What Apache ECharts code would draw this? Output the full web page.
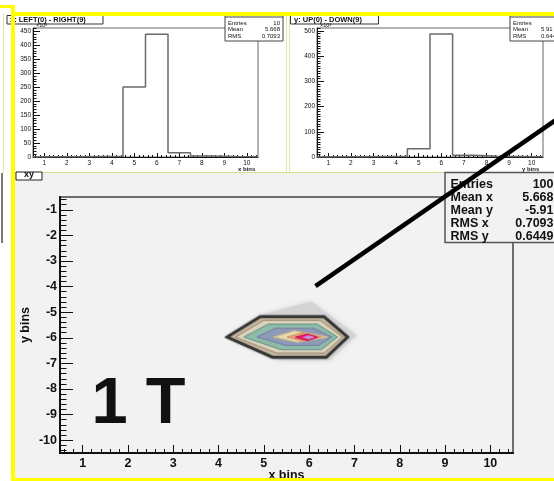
<!DOCTYPE html>
<html>
<head>
<meta charset="utf-8">
<script src="https://cdn.jsdelivr.net/npm/echarts@6/dist/echarts.min.js"></script>
<style>
  html, body { margin: 0; padding: 0; background: #fff; }
  #chart { width: 554px; height: 481px; }
</style>
</head>
<body>
<div id="chart"></div>
<script>
// bin centres, shared by both projections and the 2-D plot
var bins = [1, 2, 3, 4, 5, 6, 7, 8, 9, 10];
var yBins = [-1, -2, -3, -4, -5, -6, -7, -8, -9, -10];

// projections (counts x10^3)
var leftRight = [1, 1, 2, 3, 251, 440, 15, 4, 2, 1];
var upDown = [1, 1, 2, 3, 33, 487, 7, 3, 2, 1];
var lrTicks = [0, 50, 100, 150, 200, 250, 300, 350, 400, 450];
var udTicks = [0, 100, 200, 300, 400, 500];

// hxy contour rings, outermost first, in (x bins, y bins)
var ringShade = [[4.25, -5.95], [4.95, -5.1], [6.05, -4.58], [7.05, -5.9], [6.45, -6.88], [5.35, -6.88]];
var ring1 = [[4.19, -5.97], [4.92, -5.18], [6.33, -5.18], [6.85, -5.97], [6.38, -6.76], [5.19, -6.76]];
var ring2 = [[4.37, -5.97], [5.0, -5.32], [6.25, -5.32], [6.74, -5.97], [6.33, -6.6], [5.28, -6.6]];
var ring3 = [[4.56, -5.97], [5.1, -5.47], [6.18, -5.47], [6.62, -5.97], [6.27, -6.46], [5.38, -6.46]];
var ring4 = [[4.85, -5.97], [5.25, -5.63], [6.1, -5.63], [6.5, -5.97], [6.2, -6.3], [5.5, -6.3]];
var ring5 = [[5.22, -5.97], [5.68, -5.73], [6.4, -5.97], [5.74, -6.17]];
var ring6 = [[5.52, -5.97], [5.86, -5.81], [6.26, -5.97], [5.86, -6.12]];
var ring7 = [[5.7, -5.98], [5.96, -5.86], [6.18, -5.98], [5.96, -6.1]];
var ring8 = [[5.86, -5.98], [5.99, -5.91], [6.12, -5.98], [5.99, -6.05]];

// annotation arrow, in the same coordinates
var arrowX = [6.14, 11.78];
var arrowY = [-3.98, 2.92];

// stats boxes
var statLabels = ['Entries', 'Mean x', 'Mean y', 'RMS x', 'RMS y'];
var statValues = ['100', '5.668', '-5.91', '0.7093', '0.6449'];
var lrStatLabels = ['Entries', 'Mean', 'RMS'];
var lrStatValues = ['10', '5.668', '0.7093'];
var udStatValues = ['', '5.91', '0.6449'];

var rings = [ringShade, ring1, ring2, ring3, ring4, ring5, ring6, ring7, ring8];
var ringStyle = [
  { fill: '#d4d4d4', stroke: null, lw: 0, blur: 5 },
  { fill: '#c9bba3', stroke: '#383838', lw: 2.5, blur: 2 },
  { fill: '#ddd2bb', stroke: '#a89a82', lw: 1, blur: 1 },
  { fill: '#8fbcaa', stroke: '#77a293', lw: 1, blur: 1 },
  { fill: '#8d9ab8', stroke: '#7d89a6', lw: 1, blur: 1 },
  { fill: '#e9dcb2', stroke: '#cfbb8f', lw: 1, blur: 1 },
  { fill: '#e3ab7c', stroke: '#d8946a', lw: 1, blur: 1 },
  { fill: '#ea1f6c', stroke: '#d81a60', lw: 1, blur: 1 },
  { fill: '#c98ad8', stroke: null, lw: 0, blur: 1 }
];

// step outline points for a ROOT style histogram
function outline(vals) {
  var pts = [[bins[0] - 0.5, 0]];
  for (var i = 0; i < bins.length; i++) pts.push([bins[i] - 0.5, vals[i]]);
  pts.push([bins[bins.length - 1] + 0.5, vals[vals.length - 1]]);
  pts.push([bins[bins.length - 1] + 0.5, 0]);
  return pts;
}

function minors(from, to, step, majorStep) {
  var out = [];
  for (var v = from; v <= to + 1e-9; v += step) {
    var r = Math.round(v * 100) / 100;
    if (Math.abs(r / majorStep - Math.round(r / majorStep)) > 1e-6) out.push(r);
  }
  return out;
}

var FONT = 'Liberation Sans, Arial, sans-serif';

function majorX(grid, labelSize, tickLen, bold, margin) {
  return {
    type: 'value', gridIndex: grid, position: 'bottom', min: 0.5, max: 10.5,
    nameMoveOverlap: false,
    axisLine: { lineStyle: { color: '#111', width: bold ? 2 : 1 } },
    axisTick: { inside: true, length: tickLen, customValues: bins, lineStyle: { color: '#111' } },
    axisLabel: { customValues: bins, fontSize: labelSize, fontWeight: bold ? 'bold' : 'normal', color: '#111', margin: margin, fontFamily: FONT },
    splitLine: { show: false }
  };
}
function minorAxis(grid, pos, min, max, vals, len) {
  return {
    type: 'value', gridIndex: grid, position: pos, min: min, max: max,
    axisLine: { show: false },
    axisTick: { show: true, inside: true, length: len, customValues: vals, lineStyle: { color: '#111' } },
    axisLabel: { show: false },
    splitLine: { show: false }
  };
}
function majorY(grid, min, max, ticks, labelSize, tickLen, bold, margin) {
  return {
    type: 'value', gridIndex: grid, position: 'left', min: min, max: max,
    nameMoveOverlap: false,
    axisLine: { show: true, lineStyle: { color: '#111', width: bold ? 2 : 1 } },
    axisTick: { show: true, inside: true, length: tickLen, customValues: ticks, lineStyle: { color: '#111' } },
    axisLabel: { customValues: ticks, fontSize: labelSize, fontWeight: bold ? 'bold' : 'normal', color: '#111', margin: margin, fontFamily: FONT },
    splitLine: { show: false }
  };
}

var xMain = majorX(2, 12.5, 8, true, 4);
xMain.name = 'x bins';
xMain.nameLocation = 'middle';
xMain.nameGap = 16;
xMain.nameTextStyle = { fontSize: 12.5, fontWeight: 'bold', color: '#111', fontFamily: FONT };
var yMain = majorY(2, -10.5, -0.5, yBins, 12.5, 13, true, 3);
yMain.name = 'y bins';
yMain.nameLocation = 'middle';
yMain.nameGap = 28;
yMain.nameTextStyle = { fontSize: 12.5, fontWeight: 'bold', color: '#111', fontFamily: FONT };

var xLR = majorX(0, 6.5, 4, false, 3);
xLR.name = 'x bins';
xLR.nameLocation = 'end';
xLR.nameGap = -20;
xLR.nameTextStyle = { fontSize: 6, fontWeight: 'bold', color: '#222', align: 'left', verticalAlign: 'top', padding: [9, 0, 0, 0], fontFamily: FONT };
var xUD = majorX(1, 6.5, 4, false, 3);
xUD.name = 'y bins';
xUD.nameLocation = 'end';
xUD.nameGap = -21;
xUD.nameTextStyle = { fontSize: 6, fontWeight: 'bold', color: '#222', align: 'left', verticalAlign: 'top', padding: [9, 0, 0, 0], fontFamily: FONT };

// pad decoration
var g = [];
function rect(x, y, w, h, fill, stroke, z, lw) {
  g.push({ type: 'rect', silent: true, z: z, shape: { x: x, y: y, width: w, height: h },
    style: { fill: fill, stroke: stroke || null, lineWidth: lw || 1 } });
}
function text(x, y, s, font, align, z, fill) {
  g.push({ type: 'text', silent: true, z: z, x: x, y: y,
    style: { text: s, font: font, fill: fill || '#111', align: align || 'left', textAlign: align || 'left', verticalAlign: 'middle', textVerticalAlign: 'middle' } });
}
// backgrounds
rect(15, 172, 545, 310, '#f2f2f2', null, -20);
rect(15, 16, 272, 156, '#ffffff', null, -20);
rect(289, 16, 270, 156, '#ffffff', null, -20);
rect(3, 13, 1, 160, '#e4e4a8', null, -15);
rect(286, 16, 1, 156, '#e4e4a8', null, -15);
rect(289, 16, 1, 156, '#e4e4a8', null, -15);
rect(15, 172, 545, 1, '#d8d890', null, -15);
rect(1, 173, 2, 70, '#7a7a7a', null, -15);
// main title box
rect(16, 172, 26, 8, '#ffffff', '#222', -14, 1);
text(29, 175, 'xy', 'bold 9px ' + FONT, 'center', -13);
// hist title boxes
rect(7, 15.5, 96, 8.5, '#ffffff', '#333', 40, 1);
text(10, 20, 'x: LEFT(0) - RIGHT(9)', 'bold 7.5px ' + FONT, 'left', 41);
rect(290.5, 15.5, 88, 8.5, '#ffffff', '#333', 40, 1);
text(294, 20, 'y: UP(0) - DOWN(9)', 'bold 7.5px ' + FONT, 'left', 41);
text(36, 25.5, '\u00d710\u00b3', '5.5px ' + FONT, 'left', 41);
text(320, 25.5, '\u00d710\u00b3', '5.5px ' + FONT, 'left', 41);
// hist stats boxes
rect(225, 16, 58, 25, '#ffffff', '#444', 40, 1);
rect(225, 17.5, 58, 0.6, '#444', null, 41);
rect(510, 16, 60, 25, '#ffffff', '#444', 40, 1);
rect(510, 17.5, 60, 0.6, '#444', null, 41);
for (var i = 0; i < lrStatLabels.length; i++) {
  var ry = 23 + i * 6.8;
  text(228, ry, lrStatLabels[i], '6px ' + FONT, 'left', 42);
  text(280, ry, lrStatValues[i], '6px ' + FONT, 'right', 42);
  text(513, ry, lrStatLabels[i], '6px ' + FONT, 'left', 42);
  text(541, ry, udStatValues[i], '6px ' + FONT, 'left', 42);
}
// main stats box
rect(445, 172.5, 115, 70, '#f2f2f2', '#555', 40, 1.5);
for (var j = 0; j < statLabels.length; j++) {
  var sy = 184.3 + j * 13.1;
  text(450.5, sy, statLabels[j], 'bold 12.5px ' + FONT, 'left', 42);
  text(553.5, sy, statValues[j], 'bold 12.5px ' + FONT, 'right', 42);
}
// big label
text(91.5, 405.5, '1 T', 'bold 65px ' + FONT, 'left', 45);
// yellow canvas borders
rect(0, 5, 15, 3, '#ffff00', null, 200);
rect(11, 5, 4, 476, '#ffff00', null, 200);
rect(11, 12, 543, 4, '#ffff00', null, 200);
rect(11, 478, 543, 3, '#ffff00', null, 200);

var chart = echarts.init(document.getElementById('chart'), null, { renderer: 'canvas' });
chart.setOption({
  animation: false,
  backgroundColor: '#ffffff',
  textStyle: { fontFamily: FONT },
  grid: [
    { left: 33, top: 28, width: 225, height: 129, show: true, backgroundColor: '#ffffff', borderColor: '#666', borderWidth: 1, outerBoundsMode: 'none', containLabel: false },
    { left: 317, top: 28, width: 226, height: 129, show: true, backgroundColor: '#ffffff', borderColor: '#666', borderWidth: 1, outerBoundsMode: 'none', containLabel: false },
    { left: 60, top: 197, width: 453, height: 256, show: true, backgroundColor: '#f2f2f2', borderColor: '#444', borderWidth: 1.5, outerBoundsMode: 'none', containLabel: false }
  ],
  xAxis: [
    xLR, xUD, xMain,
    minorAxis(0, 'bottom', 0.5, 10.5, minors(0.6, 10.4, 0.2, 1), 2),
    minorAxis(1, 'bottom', 0.5, 10.5, minors(0.6, 10.4, 0.2, 1), 2),
    minorAxis(2, 'bottom', 0.5, 10.5, minors(0.6, 10.4, 0.2, 1), 4)
  ],
  yAxis: [
    majorY(0, 0, 462, lrTicks, 6.5, 7, false, 2),
    majorY(1, 0, 511, udTicks, 6.5, 7, false, 2),
    yMain,
    minorAxis(0, 'left', 0, 462, minors(10, 460, 10, 50), 3.5),
    minorAxis(1, 'left', 0, 511, minors(10, 510, 10, 100), 3.5),
    minorAxis(2, 'left', -10.5, -0.5, minors(-10.4, -0.6, 0.2, 1), 6.5)
  ],
  series: [
    {
      type: 'line', xAxisIndex: 0, yAxisIndex: 0, step: 'end', symbol: 'none',
      lineStyle: { color: '#6a6a6a', width: 1.5 }, data: outline(leftRight), z: 5
    },
    {
      type: 'line', xAxisIndex: 1, yAxisIndex: 1, step: 'end', symbol: 'none',
      lineStyle: { color: '#6a6a6a', width: 1.5 }, data: outline(upDown), z: 5
    },
    {
      type: 'custom', xAxisIndex: 2, yAxisIndex: 2, coordinateSystem: 'cartesian2d', z: 5,
      data: rings.map(function (r, i) { return [i]; }),
      renderItem: function (params, api) {
        var idx = api.value(0);
        var st = ringStyle[idx];
        var pts = rings[idx].map(function (p) { return api.coord(p); });
        return {
          type: 'polygon', shape: { points: pts },
          style: { fill: st.fill, stroke: st.stroke, lineWidth: st.lw, shadowBlur: st.blur, shadowColor: st.stroke || st.fill }
        };
      }
    },
    {
      type: 'custom', xAxisIndex: 2, yAxisIndex: 2, coordinateSystem: 'cartesian2d', z: 60, clip: false,
      data: [[0]],
      renderItem: function (params, api) {
        var a = api.coord([arrowX[0], arrowY[0]]);
        var b = api.coord([arrowX[1], arrowY[1]]);
        return {
          type: 'line', shape: { x1: a[0], y1: a[1], x2: b[0], y2: b[1] },
          style: { stroke: '#000', lineWidth: 4.5 }
        };
      }
    }
  ],
  graphic: { elements: g }
});
</script>
</body>
</html>
